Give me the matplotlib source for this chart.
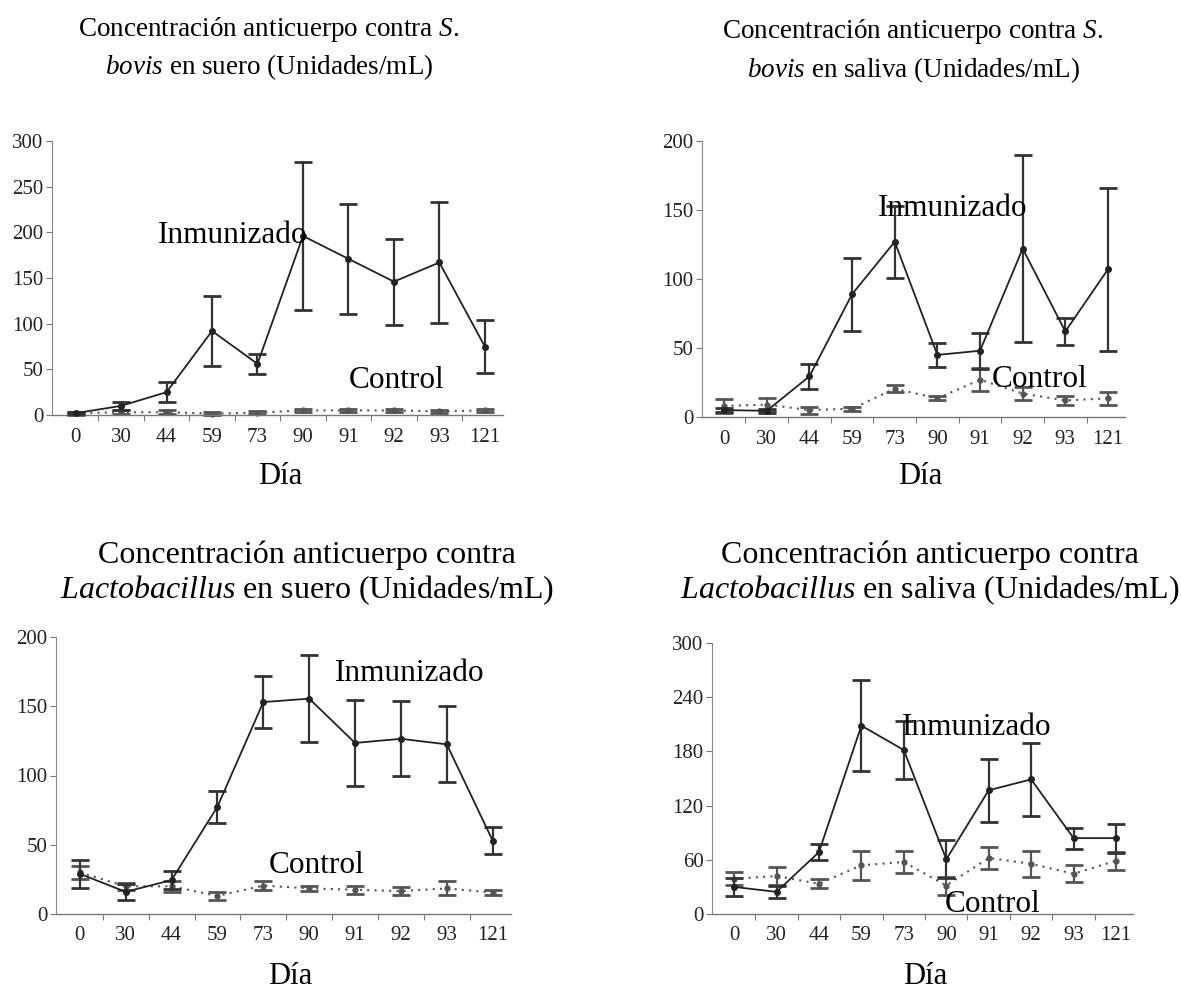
import numpy as np
import matplotlib
matplotlib.use('Agg')
import matplotlib.pyplot as plt
from matplotlib.ticker import FixedLocator

plt.rcParams['font.family'] = ['Liberation Serif', 'DejaVu Serif']
plt.rcParams['mathtext.fontset'] = 'custom'
plt.rcParams['mathtext.rm'] = 'Liberation Serif'
plt.rcParams['mathtext.it'] = 'Liberation Serif:italic'

days = ['0', '30', '44', '59', '73', '90', '91', '92', '93', '121']

# S. bovis, suero
bovis_suero_inm = [2, 10, 25, 92, 56, 196, 171, 146, 167, 75]
bovis_suero_inm_err = [1, 4, 11, 38, 11, 81, 60, 47, 66, 29]
bovis_suero_ctl = [2, 3, 3, 1.5, 2.5, 5, 5, 5, 4, 5]
bovis_suero_ctl_err = [1.5, 2, 2, 1.5, 1.5, 2, 2, 2, 2, 2]

# S. bovis, saliva
bovis_saliva_inm = [5, 4.5, 29.5, 89, 127, 45, 48, 122, 62, 107]
bovis_saliva_inm_err = [1.5, 1.5, 9, 26.5, 26, 8.5, 13, 68, 9.5, 59]
bovis_saliva_ctl = [8, 9, 5, 6, 20.5, 13.5, 27, 17, 12, 13.5]
bovis_saliva_ctl_err = [5, 5, 2.5, 1.5, 2.5, 1.5, 8.5, 5, 3.5, 4.5]

# Lactobacillus, suero
lacto_suero_inm = [29, 16, 24.5, 77.5, 153, 155.5, 123.5, 126.5, 122.5, 53]
lacto_suero_inm_err = [10, 6, 6.5, 11.5, 19, 31.5, 31, 27, 27.5, 10]
lacto_suero_ctl = [30, 20, 20, 13, 20.5, 18.5, 17.5, 16.5, 18.5, 15.5]
lacto_suero_ctl_err = [5, 2.5, 4, 3, 3, 2, 3, 3, 5, 2]

# Lactobacillus, saliva
lacto_saliva_inm = [30, 24.5, 68.5, 208.5, 181.5, 60.5, 137, 149, 84, 84]
lacto_saliva_inm_err = [10, 7, 8.5, 50, 32, 21, 35, 40, 11.5, 16]
lacto_saliva_ctl = [39, 42, 33.5, 54, 57.5, 31.5, 62, 55.5, 44.5, 59]
lacto_saliva_ctl_err = [7, 10, 5, 16, 12, 10, 12, 14.5, 9.5, 10]

W, H = 1181, 992


def px_rect(x0, y0, x1, y1):
    return [x0 / W, 1 - y1 / H, (x1 - x0) / W, (y1 - y0) / H]


def draw_panel(ax, inm, inm_err, ctl, ctl_err, ymax, yticks, inm_xy, ctl_xy):
    x = np.arange(len(days))
    ax.errorbar(x, ctl, yerr=ctl_err, fmt='o', linestyle=(0, (1, 2.5)),
                color='#555555', ecolor='#555555', ms=3.5, lw=1.5,
                elinewidth=1.6, capsize=6.5, capthick=2, clip_on=False, zorder=2)
    ax.errorbar(x, inm, yerr=inm_err, fmt='o-', color='#222222',
                ecolor='#333333', ms=4, lw=1.3, elinewidth=1.6,
                capsize=6.5, capthick=2, clip_on=False, zorder=3)

    ax.set_xlim(-0.52, 9.4)
    ax.set_ylim(0, ymax)
    ax.set_yticks(yticks)
    ax.set_xticks(x)
    ax.set_xticklabels(days)
    ax.xaxis.set_minor_locator(FixedLocator(x[:-1] + 0.5))
    ax.tick_params(axis='x', which='major', length=0, pad=9,
                   labelsize=15, labelcolor='#222222')
    ax.tick_params(axis='x', which='minor', length=4, width=0.8,
                   color='#777777', direction='out')
    ax.tick_params(axis='y', length=4, width=0.8, color='#777777',
                   labelsize=15, labelcolor='#222222', pad=2)
    for side in ('top', 'right'):
        ax.spines[side].set_visible(False)
    ax.spines['left'].set_color('#888888')
    ax.spines['left'].set_linewidth(0.8)
    ax.spines['bottom'].set_color('#777777')
    ax.spines['bottom'].set_linewidth(1.0)
    ax.set_facecolor('none')

    ax.text(inm_xy[0], inm_xy[1], 'Inmunizado', fontsize=22.5,
            ha='center', va='center', zorder=5)
    ax.text(ctl_xy[0], ctl_xy[1], 'Control', fontsize=22.5,
            ha='center', va='center', zorder=5)


fig = plt.figure(figsize=(W / 100, H / 100), dpi=100)

ax1 = fig.add_axes(px_rect(52, 141, 503, 415))
draw_panel(ax1, bovis_suero_inm, bovis_suero_inm_err, bovis_suero_ctl,
           bovis_suero_ctl_err, 300, range(0, 301, 50), (3.45, 197), (7.06, 38))

ax2 = fig.add_axes(px_rect(702, 141, 1125, 417))
draw_panel(ax2, bovis_saliva_inm, bovis_saliva_inm_err, bovis_saliva_ctl,
           bovis_saliva_ctl_err, 200, range(0, 201, 50), (5.35, 151), (7.4, 27.5))

ax3 = fig.add_axes(px_rect(56, 637, 511, 914))
draw_panel(ax3, lacto_suero_inm, lacto_suero_inm_err, lacto_suero_ctl,
           lacto_suero_ctl_err, 200, range(0, 201, 50), (7.19, 174), (5.16, 35))

ax4 = fig.add_axes(px_rect(712, 643, 1133, 914))
draw_panel(ax4, lacto_saliva_inm, lacto_saliva_inm_err, lacto_saliva_ctl,
           lacto_saliva_ctl_err, 300, range(0, 301, 60), (5.71, 206), (6.1, 10))

# titles (two lines each) and x labels
titles = [
    (269, 30, 67, 19.5, 'Concentración anticuerpo contra $\\mathit{S.}$',
     '$\\mathit{bovis}$ en suero (Unidades/mL)'),
    (913, 32, 70, 19.5, 'Concentración anticuerpo contra $\\mathit{S.}$',
     '$\\mathit{bovis}$ en saliva (Unidades/mL)'),
    (307, 555, 590, 23, 'Concentración anticuerpo contra',
     '$\\mathit{Lactobacillus}$ en suero (Unidades/mL)'),
    (930, 555, 590, 23, 'Concentración anticuerpo contra',
     '$\\mathit{Lactobacillus}$ en saliva (Unidades/mL)'),
]
for cx, y1, y2, size, line1, line2 in titles:
    fig.text(cx / W, 1 - y1 / H, line1, ha='center', va='center', fontsize=size)
    fig.text(cx / W, 1 - y2 / H, line2, ha='center', va='center', fontsize=size)

for cx, cy in [(280, 477), (920, 477), (290, 977), (925, 977)]:
    fig.text(cx / W, 1 - cy / H, 'Día', ha='center', va='center', fontsize=22)

fig.savefig('out.png', dpi=100)
